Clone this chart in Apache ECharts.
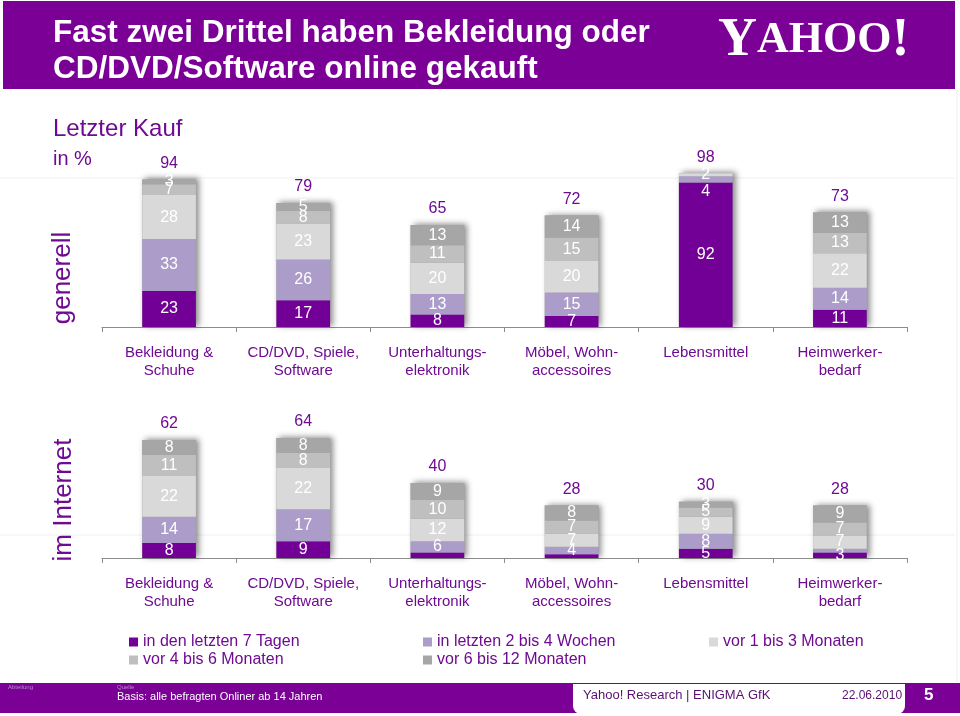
<!DOCTYPE html>
<html><head><meta charset="utf-8">
<script src="https://cdn.jsdelivr.net/npm/echarts@6/dist/echarts.min.js"></script>
<style>html,body{margin:0;padding:0;background:#fff}#c{width:960px;height:716px}</style>
</head><body><div id="c"></div>
<script>
// ---- data ----
const categories = ['Bekleidung &\nSchuhe','CD/DVD, Spiele,\nSoftware','Unterhaltungs-\nelektronik','Möbel, Wohn-\naccessoires','Lebensmittel','Heimwerker-\nbedarf'];
const seriesNames = ['in den letzten 7 Tagen','in letzten 2 bis 4 Wochen','vor 1 bis 3 Monaten','vor 4 bis 6 Monaten','vor 6 bis 12 Monaten'];
// "generell"
const topS1 = [23,17,8,7,92,11];
const topS2 = [33,26,13,15,4,14];
const topS3 = [28,23,20,20,2,22];
const topS4 = [7,8,11,15,0,13];
const topS5 = [3,5,13,14,0,13];
const topTotals = [94,79,65,72,98,73];
// "im Internet"
const netS1 = [8,9,3,2,5,3];
const netS2 = [14,17,6,4,8,2];
const netS3 = [22,22,12,7,9,7];
const netS4 = [11,8,10,7,5,7];
const netS5 = [8,8,9,8,3,9];
const netTotals = [62,64,40,28,30,28];

// ---- styling ----
const PURPLE_TXT = '#6f0a92';
const colors = ['#730096','#ab9cc9','#d9d9d9','#bfbfbf','#a6a6a6'];
const FONT = '"Liberation Sans", Arial, sans-serif';
const hiddenLabels = {net:[[0,2],[0,3],[1,5]], top:[]};
const labelOffsets = {top:{'1_4':[0,12]}, net:{}};

function buildPanel(key, arrs, totals, axisIdx){
  const out = [];
  const sums = categories.map((_,i)=>arrs.reduce((s,a)=>s+a[i],0));
  // shadow / total-label bar underneath
  out.push({
    type:'bar', name:'_total_'+key, xAxisIndex:axisIdx, yAxisIndex:axisIdx,
    stack:'shadow'+key, barWidth:'40%', barGap:'-100%', z:1,
    data:sums,
    itemStyle:{color:'#9a9a9a', shadowBlur:6, shadowOffsetX:3, shadowOffsetY:-1, shadowColor:'rgba(0,0,0,0.45)'},
    label:{show:true, position:'top', distance:8, color:PURPLE_TXT, fontSize:16, fontFamily:FONT,
      formatter:p=>String(totals[p.dataIndex])},
    silent:true
  });
  arrs.forEach((a,si)=>{
    out.push({
      type:'bar', name:seriesNames[si], xAxisIndex:axisIdx, yAxisIndex:axisIdx,
      stack:'main'+key, barWidth:'40%', z:3,
      itemStyle:{color:colors[si]},
      data:a.map((v,ci)=>{
        const hide = hiddenLabels[key].some(h=>h[0]===si && h[1]===ci) || v===0;
        const off = labelOffsets[key][si+'_'+ci];
        const d = {value:v};
        if(hide) d.label={show:false};
        else if(off) d.label={offset:off};
        return d;
      }),
      label:{show:true, position:'inside', color:'#fff', fontSize:16, fontFamily:FONT}
    });
  });
  return out;
}

const series = [].concat(
  buildPanel('top',[topS1,topS2,topS3,topS4,topS5],topTotals,0),
  buildPanel('net',[netS1,netS2,netS3,netS4,netS5],netTotals,1)
);

const xAxisBase = {
  type:'category', data:categories,
  axisLine:{lineStyle:{color:'#8c8c8c',width:1}},
  axisTick:{show:true, length:5, lineStyle:{color:'#8c8c8c'}},
  axisLabel:{color:PURPLE_TXT, fontSize:15, lineHeight:18, margin:17, fontFamily:FONT, interval:0}
};

const legendBase = {orient:'vertical', icon:'rect', itemWidth:9, itemHeight:9, itemGap:2,
  textStyle:{color:PURPLE_TXT, fontSize:16, lineHeight:16, fontFamily:FONT}, selectedMode:false};

const chart = echarts.init(document.getElementById('c'));
chart.setOption({
  animation:false,
  grid:[
    {left:102, right:53, top:170, height:157},
    {left:102, right:53, top:408, height:150}
  ],
  xAxis:[Object.assign({gridIndex:0},xAxisBase), Object.assign({gridIndex:1},xAxisBase)],
  yAxis:[
    {gridIndex:0, min:0, max:100, show:false},
    {gridIndex:1, min:0, max:80, show:false}
  ],
  legend:[
    Object.assign({left:124, top:629, data:[seriesNames[0],seriesNames[3]]},legendBase),
    Object.assign({left:418, top:629, data:[seriesNames[1],seriesNames[4]]},legendBase),
    Object.assign({left:704, top:629, data:[seriesNames[2]]},legendBase)
  ],
  graphic:[
    // faint slide lines
    {type:'line', z:-10, shape:{x1:0,y1:178,x2:955,y2:178}, style:{stroke:'#efefef',lineWidth:1}},
    {type:'line', z:-10, shape:{x1:0,y1:535,x2:955,y2:535}, style:{stroke:'#efefef',lineWidth:1}},
    {type:'line', z:-10, shape:{x1:957,y1:90,x2:957,y2:682}, style:{stroke:'#eeeeee',lineWidth:1}},
    // header
    {type:'rect', shape:{x:3,y:1,width:952,height:88}, style:{fill:'#7a0096'}},
    {type:'text', left:53, top:15, style:{text:'Fast zwei Drittel haben Bekleidung oder\nCD/DVD/Software online gekauft',
      fill:'#fff', font:'bold 31.5px "Liberation Sans Narrow", "Liberation Sans", Arial, sans-serif', lineHeight:36}},
    {type:'text', left:718, top:14, style:{rich:{
        y:{fontSize:54, fontWeight:'bold', fontFamily:'"Liberation Serif", serif', fill:'#fff', color:'#fff'},
        a:{fontSize:44, fontWeight:'bold', fontFamily:'"Liberation Serif", serif', fill:'#fff', color:'#fff'}
      }, text:'{y|Y}{a|AHOO}{y|!}'}},
    // subtitle
    {type:'text', left:53, top:117, style:{text:'Letzter Kauf', fill:PURPLE_TXT, font:'24px '+FONT}},
    {type:'text', left:53, top:149, style:{text:'in %', fill:PURPLE_TXT, font:'20px '+FONT}},
    // row labels (rotated)
    {type:'text', x:63, y:278, rotation:Math.PI/2, style:{text:'generell', fill:PURPLE_TXT, font:'26px '+FONT, textAlign:'center', textVerticalAlign:'middle'}},
    {type:'text', x:64, y:500, rotation:Math.PI/2, style:{text:'im Internet', fill:PURPLE_TXT, font:'26px '+FONT, textAlign:'center', textVerticalAlign:'middle'}},
    // footer
    {type:'rect', shape:{x:0,y:683,width:960,height:30}, style:{fill:'#7a0096'}},
    {type:'rect', shape:{x:573,y:684,width:332,height:30,r:[0,0,8,8]}, style:{fill:'#fff'}},
    {type:'text', left:117, top:691, style:{text:'Basis: alle befragten Onliner ab 14 Jahren', fill:'#fff', font:'11px "Liberation Sans Narrow", '+FONT}},
    {type:'text', left:583, top:689, style:{text:'Yahoo! Research | ENIGMA GfK', fill:'#5a1070', font:'13px "Liberation Sans Narrow", '+FONT}},
    {type:'text', left:842, top:690, style:{text:'22.06.2010', fill:'#5a1070', font:'12px "Liberation Sans Narrow", '+FONT}},
    {type:'text', left:924, top:687, style:{text:'5', fill:'#fff', font:'bold 17px '+FONT}},
    {type:'text', left:8, top:684, style:{text:'Abteilung', fill:'#b58fc6', font:'6px '+FONT}},
    {type:'text', left:117, top:684, style:{text:'Quelle', fill:'#b58fc6', font:'6px '+FONT}}
  ],
  series:series
});
</script></body></html>
